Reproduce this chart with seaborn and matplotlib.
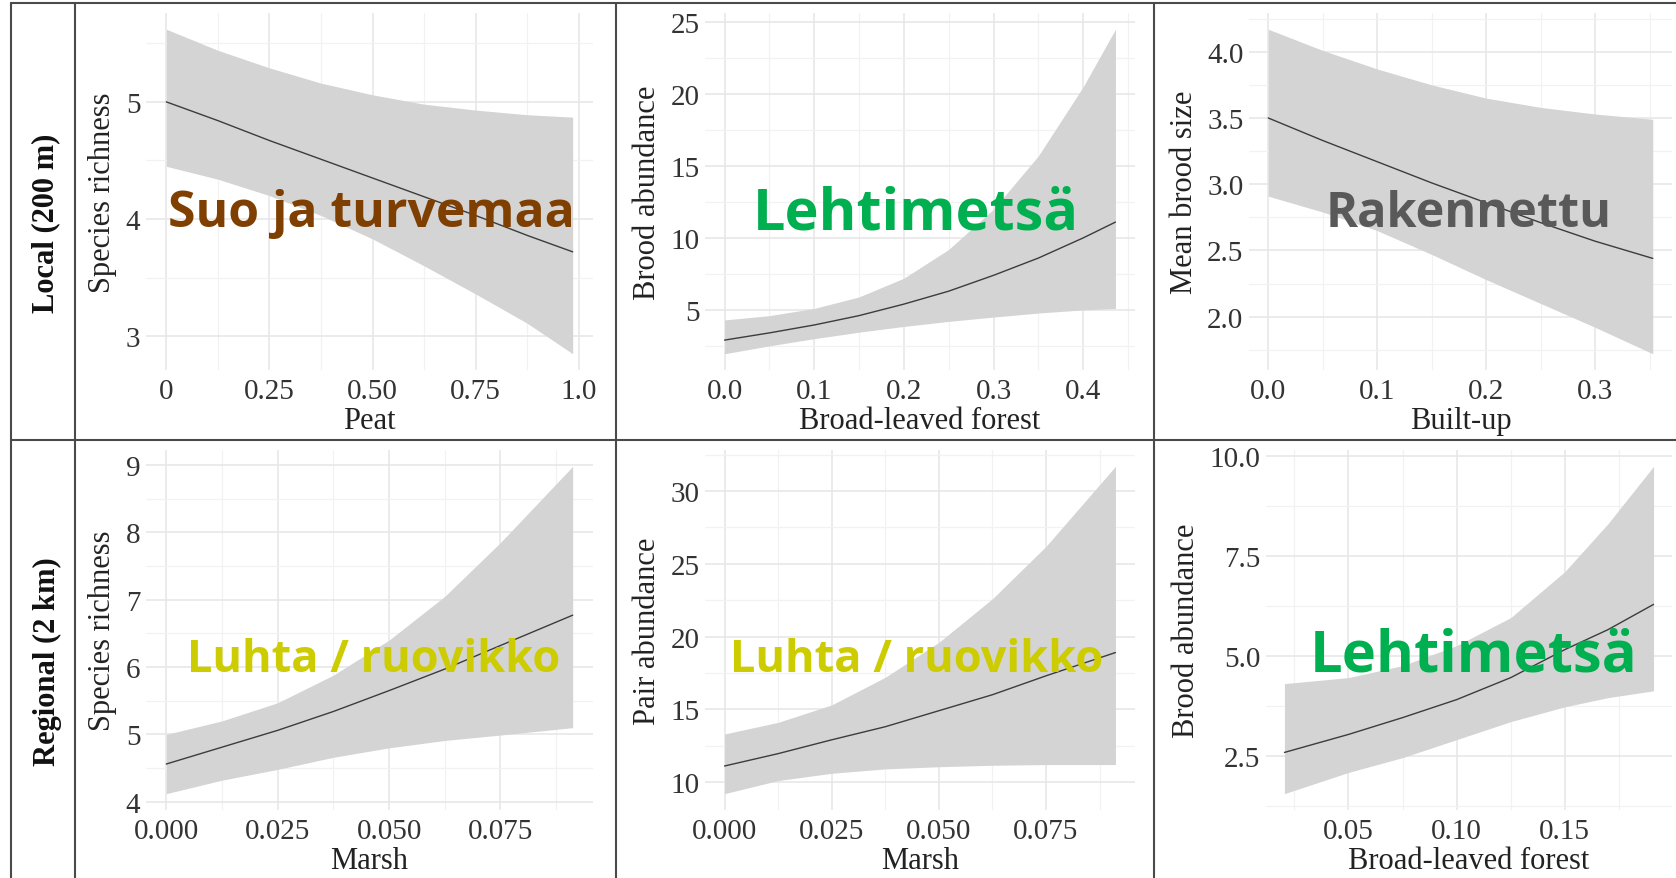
import matplotlib
matplotlib.use("Agg")
import pandas as pd
import matplotlib.pyplot as plt
import seaborn as sns
from matplotlib.lines import Line2D
from matplotlib.ticker import AutoMinorLocator

# --- values ---
row_labels = ["Local (200 m)", "Regional (2 km)"]

# Local: peat -> species richness
peat_x = [0, 0.125, 0.25, 0.375, 0.5, 0.625, 0.75, 0.875, 0.985]
peat_fit = [5.0, 4.84, 4.67, 4.51, 4.35, 4.19, 4.03, 3.86, 3.72]
peat_lo = [4.45, 4.34, 4.2, 4.03, 3.83, 3.6, 3.36, 3.11, 2.85]
peat_hi = [5.62, 5.44, 5.29, 5.16, 5.06, 4.98, 4.93, 4.89, 4.87]

# Local: broad-leaved forest -> brood abundance
blf_x = [0, 0.05, 0.1, 0.15, 0.2, 0.25, 0.3, 0.35, 0.4, 0.436]
blf_fit = [2.9, 3.4, 3.95, 4.6, 5.4, 6.3, 7.4, 8.6, 10.0, 11.1]
blf_lo = [1.95, 2.5, 3.0, 3.45, 3.85, 4.2, 4.5, 4.78, 5.0, 5.1]
blf_hi = [4.3, 4.6, 5.1, 5.9, 7.2, 9.2, 12.0, 15.7, 20.5, 24.5]

# Local: built-up -> mean brood size
bu_x = [0, 0.05, 0.1, 0.15, 0.2, 0.25, 0.3, 0.353]
bu_fit = [3.5, 3.33, 3.17, 3.01, 2.86, 2.71, 2.57, 2.44]
bu_lo = [2.91, 2.79, 2.65, 2.47, 2.28, 2.1, 1.92, 1.72]
bu_hi = [4.17, 4.01, 3.87, 3.75, 3.65, 3.58, 3.53, 3.49]

# Regional: marsh -> species richness
marsh_x = [0, 0.0125, 0.025, 0.0375, 0.05, 0.0625, 0.075, 0.0912]
marsh_sr_fit = [4.56, 4.81, 5.06, 5.34, 5.65, 5.97, 6.32, 6.77]
marsh_sr_lo = [4.12, 4.32, 4.48, 4.66, 4.8, 4.91, 4.99, 5.1]
marsh_sr_hi = [5.0, 5.2, 5.47, 5.88, 6.4, 7.05, 7.85, 8.98]

# Regional: marsh -> pair abundance
marsh_pa_fit = [11.1, 11.95, 12.9, 13.8, 14.9, 16.0, 17.3, 18.9]
marsh_pa_lo = [9.2, 10.1, 10.6, 10.9, 11.05, 11.15, 11.2, 11.2]
marsh_pa_hi = [13.3, 14.1, 15.3, 17.2, 19.6, 22.6, 26.2, 31.7]

# Regional: broad-leaved forest -> brood abundance
blf2_x = [0.0204, 0.05, 0.075, 0.1, 0.125, 0.15, 0.17, 0.191]
blf2_fit = [2.58, 3.03, 3.45, 3.9, 4.45, 5.15, 5.65, 6.28]
blf2_lo = [1.55, 2.08, 2.45, 2.9, 3.35, 3.72, 3.95, 4.12]
blf2_hi = [4.3, 4.45, 4.75, 5.25, 5.95, 7.1, 8.3, 9.73]

# habitat names written over the panels
habitats = ["Suo ja turvemaa", "Lehtimetsä", "Rakennettu",
            "Luhta / ruovikko", "Luhta / ruovikko", "Lehtimetsä"]
habitat_colors = ["#7F3F00", "#00B050", "#595959", "#CCCC00", "#CCCC00", "#00B050"]

panels = [
    dict(x=peat_x, fit=peat_fit, lo=peat_lo, hi=peat_hi, xlabel="Peat", ylabel="Species richness",
         xt=[0, 0.25, 0.5, 0.75, 1.0], xtl=["0", "0.25", "0.50", "0.75", "1.0"],
         yt=[3, 4, 5], ytl=["3", "4", "5"]),
    dict(x=blf_x, fit=blf_fit, lo=blf_lo, hi=blf_hi, xlabel="Broad-leaved forest", ylabel="Brood abundance",
         xt=[0, 0.1, 0.2, 0.3, 0.4], xtl=["0.0", "0.1", "0.2", "0.3", "0.4"],
         yt=[5, 10, 15, 20, 25], ytl=["5", "10", "15", "20", "25"]),
    dict(x=bu_x, fit=bu_fit, lo=bu_lo, hi=bu_hi, xlabel="Built-up", ylabel="Mean brood size",
         xt=[0, 0.1, 0.2, 0.3], xtl=["0.0", "0.1", "0.2", "0.3"],
         yt=[2.0, 2.5, 3.0, 3.5, 4.0], ytl=["2.0", "2.5", "3.0", "3.5", "4.0"]),
    dict(x=marsh_x, fit=marsh_sr_fit, lo=marsh_sr_lo, hi=marsh_sr_hi, xlabel="Marsh", ylabel="Species richness",
         xt=[0, 0.025, 0.05, 0.075], xtl=["0.000", "0.025", "0.050", "0.075"],
         yt=[4, 5, 6, 7, 8, 9], ytl=["4", "5", "6", "7", "8", "9"]),
    dict(x=marsh_x, fit=marsh_pa_fit, lo=marsh_pa_lo, hi=marsh_pa_hi, xlabel="Marsh", ylabel="Pair abundance",
         xt=[0, 0.025, 0.05, 0.075], xtl=["0.000", "0.025", "0.050", "0.075"],
         yt=[10, 15, 20, 25, 30], ytl=["10", "15", "20", "25", "30"]),
    dict(x=blf2_x, fit=blf2_fit, lo=blf2_lo, hi=blf2_hi, xlabel="Broad-leaved forest", ylabel="Brood abundance",
         xt=[0.05, 0.10, 0.15], xtl=["0.05", "0.10", "0.15"],
         yt=[2.5, 5.0, 7.5, 10.0], ytl=["2.5", "5.0", "7.5", "10.0"]),
]

# --- layout (pixels of the 1676x879 canvas) ---
W, H = 1676, 879
axes_px = [(146, 14, 593, 371), (705, 14, 1135, 371), (1249, 14, 1672, 371),
           (146, 451, 593, 811), (705, 451, 1135, 811), (1266, 451, 1672, 811)]
text_px = [(371, 227, 35.9), (916, 229, 41.5), (1469, 227, 35),
           (374, 672, 32.5), (917, 672, 32.5), (1474, 672, 41.7)]

sns.set_theme(style="white")
plt.rcParams["font.family"] = ["Liberation Serif", "DejaVu Serif"]

fig = plt.figure(figsize=(W / 100, H / 100), dpi=100)
fig.patch.set_facecolor("white")

for p, (x0, y0, x1, y1) in zip(panels, axes_px):
    ax = fig.add_axes([x0 / W, 1 - y1 / H, (x1 - x0) / W, (y1 - y0) / H])
    df = pd.DataFrame({"x": p["x"], "fit": p["fit"], "lo": p["lo"], "hi": p["hi"]})
    ax.fill_between(df["x"], df["lo"], df["hi"], color="#D4D4D4", lw=0, zorder=2)
    sns.lineplot(data=df, x="x", y="fit", ax=ax, color="#3C3C3C", lw=1.0, zorder=3)
    ax.set_xticks(p["xt"])
    ax.set_xticklabels(p["xtl"])
    ax.set_yticks(p["yt"])
    ax.set_yticklabels(p["ytl"])
    ax.xaxis.set_minor_locator(AutoMinorLocator(2))
    ax.yaxis.set_minor_locator(AutoMinorLocator(2))
    ax.grid(which="major", color="#E6E6E6", lw=1.1, zorder=0)
    ax.grid(which="minor", color="#F2F2F2", lw=0.9, zorder=0)
    ax.set_axisbelow(True)
    for s in ax.spines.values():
        s.set_visible(False)
    ax.tick_params(which="both", length=0, labelsize=21, labelcolor="#333333", pad=4)
    ax.tick_params(axis="x", pad=6)
    ax.set_xlabel(p["xlabel"], fontsize=22, color="#222222", labelpad=1)
    ax.set_ylabel(p["ylabel"], fontsize=22, color="#222222", labelpad=6)

# habitat names on top of each panel
for name, col, (cx, by, fs) in zip(habitats, habitat_colors, text_px):
    fig.text(cx / W, 1 - by / H, name, ha="center", va="baseline", color=col,
             fontsize=fs, fontweight="bold", family=["Open Sans", "DejaVu Sans"], zorder=10)

# row headers
fig.text(46 / W, 1 - 223 / H, row_labels[0], rotation=90, ha="center", va="center",
         fontsize=22, fontweight="bold", color="#111111")
fig.text(47 / W, 1 - 662 / H, row_labels[1], rotation=90, ha="center", va="center",
         fontsize=22, fontweight="bold", color="#111111")

# table rules
rule = dict(color="#4A4A4A", lw=1.5, transform=fig.transFigure)
for xv in [11, 75, 616, 1154]:
    fig.add_artist(Line2D([xv / W, xv / W], [0, 1 - 4 / H], **rule))
for yv in [4, 441]:
    fig.add_artist(Line2D([11 / W, 1], [1 - yv / H, 1 - yv / H], **rule))

fig.savefig("out.png", dpi=100, facecolor="white")
